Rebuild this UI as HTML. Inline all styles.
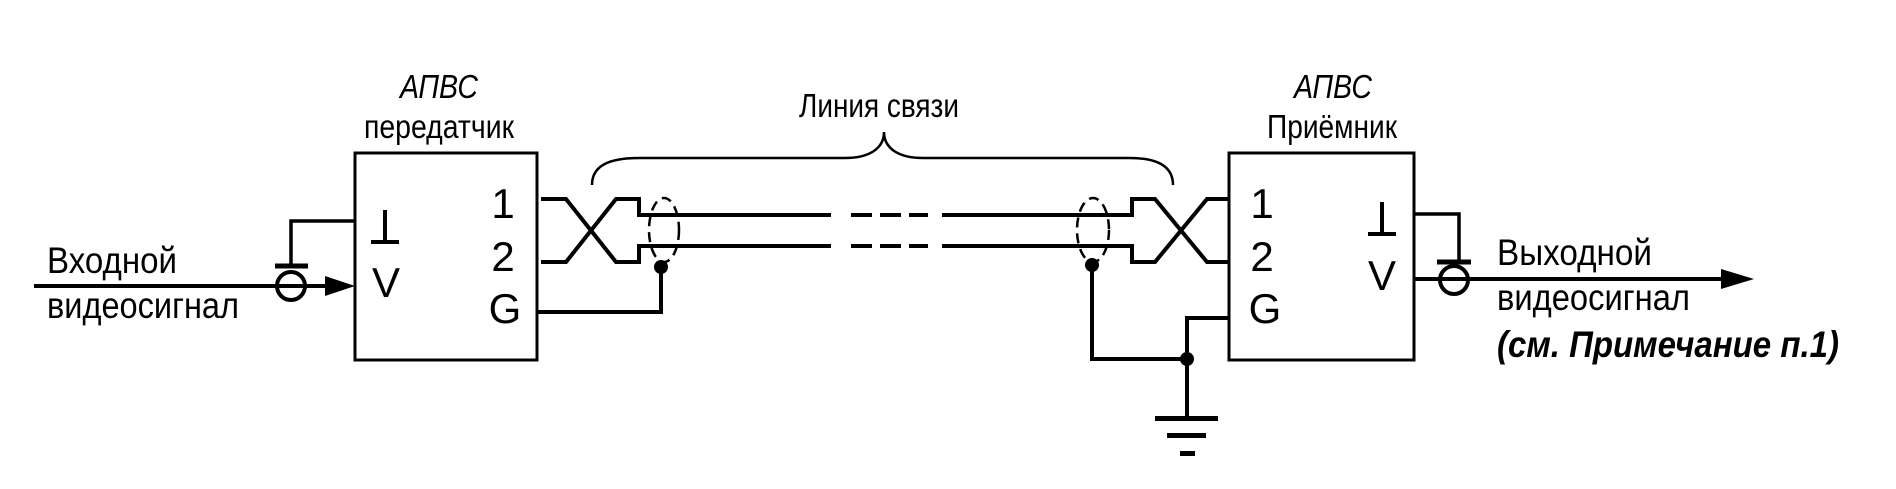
<!DOCTYPE html>
<html><head><meta charset="utf-8"><style>
html,body{margin:0;padding:0;background:#fff}
svg{display:block}
text{font-family:"Liberation Sans",sans-serif;fill:#000}
</style></head><body>
<svg width="1896" height="489" viewBox="0 0 1896 489" xmlns="http://www.w3.org/2000/svg">
<g fill="none" stroke="#000" stroke-width="4">
<rect x="355" y="153" width="182" height="207" stroke-width="3"/>
<rect x="1229" y="153" width="185" height="207" stroke-width="3"/>
<line x1="34" y1="286" x2="330" y2="286"/>
<circle cx="291" cy="286" r="14"/>
<line x1="275" y1="266" x2="308" y2="266" stroke-width="5"/>
<polyline points="291,266 291,221 355,221" stroke-width="3.5"/>
<polyline points="541,199 566,199 616,262 639,262 639,246 642,246"/>
<polyline points="541,262 566,262 616,199 639,199 639,215 642,215"/>
<polyline points="661,267 661,312 537,312"/>
<line x1="641" y1="215" x2="831" y2="215"/>
<line x1="641" y1="246" x2="831" y2="246"/>
<line x1="851" y1="215" x2="928" y2="215" stroke-dasharray="21,8"/>
<line x1="851" y1="246" x2="928" y2="246" stroke-dasharray="21,8"/>
<line x1="942" y1="215" x2="1131" y2="215"/>
<line x1="942" y1="246" x2="1131" y2="246"/>
<ellipse cx="664" cy="230" rx="15" ry="32" stroke-width="2.5" stroke-dasharray="10,6"/>
<ellipse cx="1093" cy="230" rx="16" ry="32" stroke-width="2.5" stroke-dasharray="10,6"/>
<path d="M592,185 C592,165 610,158 640,158 L845,158 C870,158 884,148 884,132 C884,148 898,158 923,158 L1130,158 C1160,158 1173,168 1173,185" stroke-width="2.5"/>
<polyline points="1229,199 1207,199 1155,262 1132,262 1132,246 1130,246"/>
<polyline points="1229,262 1207,262 1155,199 1132,199 1132,215 1130,215"/>
<polyline points="1092,265 1092,359 1187,359"/>
<polyline points="1229,318 1187,318 1187,418"/>
<polyline points="1414,214 1459,214 1459,262" stroke-width="3.5"/>
<line x1="1437" y1="262" x2="1471" y2="262" stroke-width="5"/>
<circle cx="1454" cy="280" r="14"/>
<line x1="1414" y1="279" x2="1725" y2="279"/>
</g>
<g fill="#000">
<polygon points="325,276 355,286 325,296"/>
<polygon points="1721,269 1754,279 1721,289"/>
<circle cx="661" cy="267" r="7"/>
<circle cx="1092" cy="265" r="7"/>
<circle cx="1187" cy="359" r="7"/>
<rect x="1155" y="416" width="63" height="5"/>
<rect x="1167" y="433" width="39" height="5"/>
<rect x="1180" y="451" width="15" height="5"/>
</g>
<text x="400" y="98" font-size="33" font-style="italic" textLength="78" lengthAdjust="spacingAndGlyphs">АПВС</text>
<text x="364" y="138" font-size="33" textLength="150" lengthAdjust="spacingAndGlyphs">передатчик</text>
<text x="1294" y="98" font-size="33" font-style="italic" textLength="78" lengthAdjust="spacingAndGlyphs">АПВС</text>
<text x="1267" y="138" font-size="33" textLength="130" lengthAdjust="spacingAndGlyphs">Приёмник</text>
<text x="799" y="117" font-size="33" textLength="160" lengthAdjust="spacingAndGlyphs">Линия связи</text>
<text x="47" y="273" font-size="37" textLength="130" lengthAdjust="spacingAndGlyphs">Входной</text>
<text x="47" y="318" font-size="37" textLength="192" lengthAdjust="spacingAndGlyphs">видеосигнал</text>
<text x="1497" y="265" font-size="37" textLength="155" lengthAdjust="spacingAndGlyphs">Выходной</text>
<text x="1497" y="310" font-size="37" textLength="193" lengthAdjust="spacingAndGlyphs">видеосигнал</text>
<text x="1497" y="357" font-size="37" font-weight="bold" font-style="italic" textLength="342" lengthAdjust="spacingAndGlyphs">(см. Примечание п.1)</text>
<g font-size="42" text-anchor="middle">
<text x="503" y="218">1</text><text x="503" y="271">2</text><text x="505" y="323">G</text>
<text x="1262" y="218">1</text><text x="1262" y="271">2</text><text x="1265" y="323">G</text>
<text x="386" y="297">V</text><text x="1382" y="290">V</text>
</g>
<g stroke="#000" stroke-width="4">
<line x1="385" y1="210" x2="385" y2="241"/><line x1="371" y1="242" x2="399" y2="242"/>
<line x1="1382" y1="202" x2="1382" y2="233"/><line x1="1368" y1="234" x2="1396" y2="234"/>
</g>
</svg>
</body></html>
